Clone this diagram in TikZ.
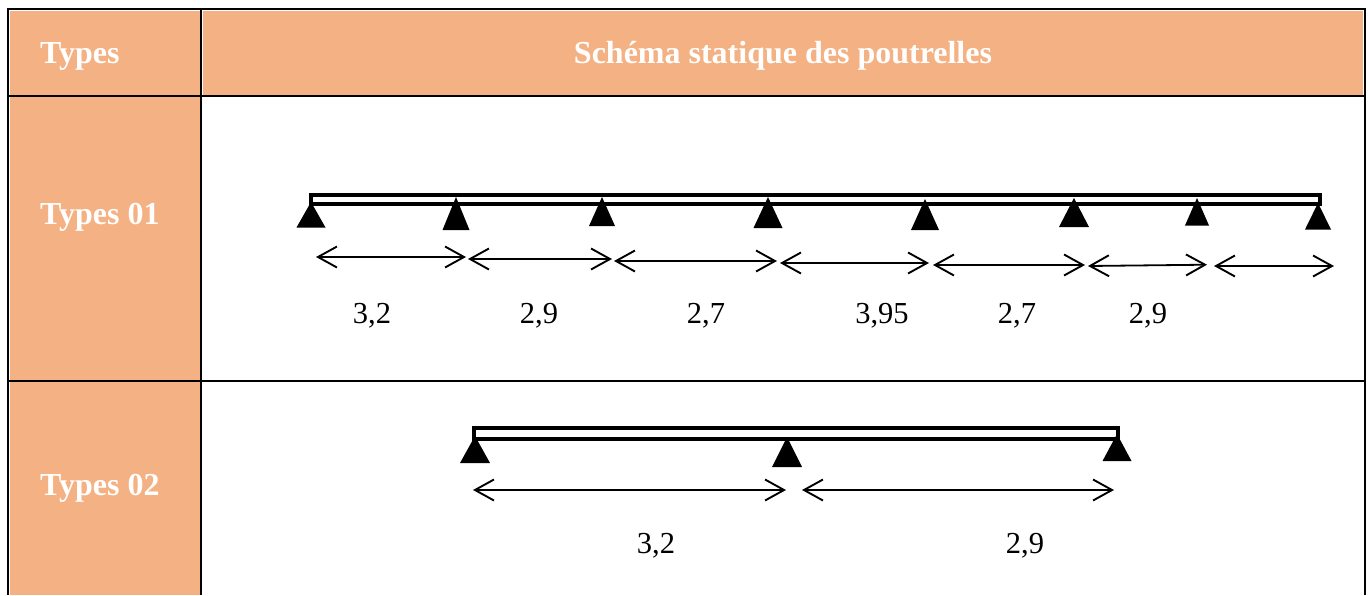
\documentclass[tikz,border=0pt]{standalone}
\usepackage{fontspec}
\setmainfont{Liberation Serif}
\usepackage{xcolor}
\usetikzlibrary{arrows.meta}
\definecolor{headfill}{HTML}{F4B183}
\tikzset{
    cellrule/.style={line width=2.2pt,black},
    beamline/.style={line width=4pt,black},
    dimline/.style={line width=1.8pt,{Straight Barb[length=19pt,width=21pt,line width=1.9pt]}-{Straight Barb[length=19pt,width=21pt,line width=1.9pt]}},
    headtext/.style={anchor=base,white,font=\fontsize{32}{38}\selectfont\bfseries,inner sep=0pt},
    spanlabel/.style={anchor=base,font=\fontsize{30.5}{36}\selectfont,inner sep=0pt}
}
\begin{document}
\begin{tikzpicture}[x=1pt,y=-1pt]
    \useasboundingbox (0,0) rectangle (1368,595);

    % Table background
    \fill[headfill] (10,10.5) rectangle (200,595);
    \fill[headfill] (203,10.5) rectangle (1363,95);

    % Table rules
    \draw[cellrule] (8.2,595) -- (8.2,9.3) -- (1365,9.3) -- (1365,595);
    \draw[cellrule] (201,9.3) -- (201,595);
    \draw[cellrule] (8.2,96) -- (1365,96);
    \draw[cellrule] (8.2,381) -- (1365,381);

    % Header and row titles
    \node[headtext,anchor=base west] (typeshead) at (40,63.5) {Types};
    \node[headtext] (schemahead) at (783,63.5) {Schéma statique des poutrelles};
    \node[headtext,anchor=base west] (typesone) at (40,224.5) {Types 01};
    \node[headtext,anchor=base west] (typestwo) at (40,495.5) {Types 02};

    % First beam
    \draw[beamline] (311,203.5) -- (311,194.5) -- (1319.5,194.5) -- (1319.5,203.5) -- cycle;
    \foreach \x/\ytop/\ybase/\w in {311/202/227.5/14.5, 456/197/230/13.5, 602/197/226/13, 768/197/228/14.5, 925/199/230/14, 1074/198/227/15, 1197/198/225.5/12, 1318/203/229.5/13} {
        \fill (\x,\ytop) -- (\x+\w,\ybase) -- (\x-\w,\ybase) -- cycle;
    }

    % First beam spans
    \foreach \n/\xa/\ya/\xb/\yb in {1/316/257/466/257, 2/468/259/612/259, 3/614/261/777/261, 4/780/263/929/263, 5/933/265/1085/265, 6/1088/266/1207/264.7, 7/1214/266/1334/266} {
        \coordinate (oneL\n) at (\xa,\ya);
        \coordinate (oneR\n) at (\xb,\yb);
        \draw[dimline] (oneL\n) -- (oneR\n);
    }
    \foreach \n/\x/\txt in {a/372/{3,2}, b/539/{2,9}, c/706/{2,7}, d/882/{3,95}, e/1017/{2,7}, f/1148/{2,9}} {
        \node[spanlabel] (onelab\n) at (\x,323) {\txt};
    }

    % Second beam
    \draw[beamline] (474,439) -- (474,428) -- (1118,428) -- (1118,439) -- cycle;
    \foreach \x/\ytop/\ybase/\w in {475/436/463/15, 787/437/467/15, 1117/434/461/14.5} {
        \fill (\x,\ytop) -- (\x+\w,\ybase) -- (\x-\w,\ybase) -- cycle;
    }

    % Second beam spans
    \foreach \n/\xa/\xb in {1/473/786, 2/802/1114} {
        \coordinate (twoL\n) at (\xa,490);
        \coordinate (twoR\n) at (\xb,490);
        \draw[dimline] (twoL\n) -- (twoR\n);
    }
    \node[spanlabel] (twolaba) at (656,553) {3,2};
    \node[spanlabel] (twolabb) at (1025,553) {2,9};
\end{tikzpicture}
\end{document}
